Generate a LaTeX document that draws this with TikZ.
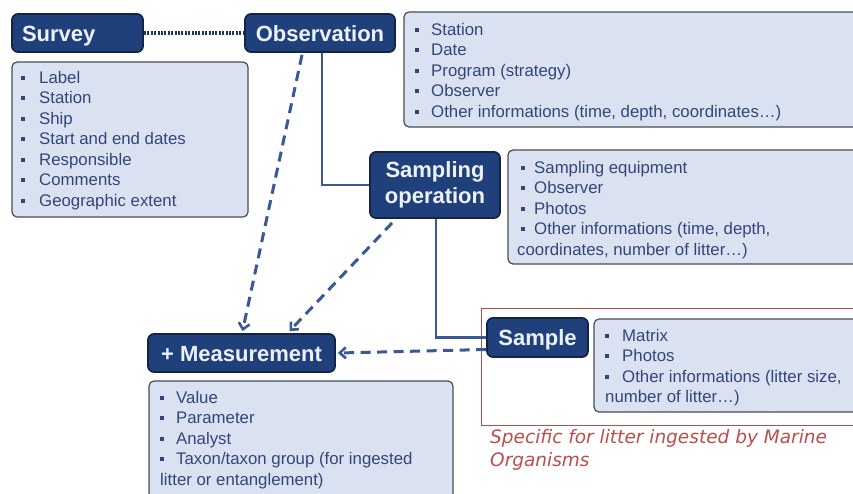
\documentclass[tikz,border=0pt]{standalone}
\usepackage{fontspec}
\setmainfont{Liberation Sans}
\newfontfamily\notefont{DejaVu Sans}
\usetikzlibrary{arrows.meta}
\definecolor{titlefill}{RGB}{32,64,124}
\definecolor{titledraw}{RGB}{20,36,70}
\definecolor{titletext}{RGB}{236,241,250}
\definecolor{listfill}{RGB}{218,226,242}
\definecolor{listdraw}{RGB}{72,76,86}
\definecolor{listtext}{RGB}{50,70,122}
\definecolor{conn}{RGB}{58,88,150}
\definecolor{dotcol}{RGB}{30,54,100}
\definecolor{redc}{RGB}{186,78,76}
\newcommand\bl[1]{\makebox[#1][l]{\rule[3.5pt]{4pt}{4pt}}}
\begin{document}
\begin{tikzpicture}[x=1pt,y=-1pt,
  title/.style={draw=titledraw, fill=titlefill, line width=1.8pt, rounded corners=6pt,
    text=titletext, font=\fontsize{22}{26}\selectfont\bfseries, inner sep=0pt, align=center},
  oneline/.style={text height=16pt, text depth=0pt},
  listbox/.style={draw=listdraw, fill=listfill, line width=1.2pt, rounded corners=5pt},
  item/.style={anchor=base west, inner sep=0pt, text=listtext, font=\fontsize{16.8}{20}\selectfont},
  sconn/.style={draw=conn, line width=2.3pt},
  dconn/.style={draw=conn, line width=3pt, dash pattern=on 10pt off 6.5pt,
    -{Straight Barb[length=6pt,width=11pt,line width=2.6pt]}},
  dotline/.style={draw=dotcol, line width=3.2pt, dash pattern=on 2pt off 1.4pt},
  redtext/.style={anchor=base west, inner sep=0pt, text=redc, font=\fontsize{18.5}{22}\notefont\itshape}
]
\clip (0,0) rectangle (853,493);
\fill[white] (0,0) rectangle (853,493);

% list boxes
\draw[listbox] (12,62) rectangle (248,217);
\draw[listbox] (404,12) rectangle (870,127);
\draw[listbox] (508,150) rectangle (870,264);
\draw[draw=redc, line width=0.9pt] (481,308) rectangle (870,425);
\draw[listbox] (594,319) rectangle (870,412);
\draw[listbox] (149,381) rectangle (453,510);

% title nodes
\node[title, oneline, minimum width=131pt, minimum height=38pt, text width=111pt, align=left] (survey) at (77.5,33) {Survey};
\node[title, oneline, minimum width=150pt, minimum height=38pt] (obs) at (320,33) {Observation};
\node[title, minimum width=130pt, minimum height=66pt] (samp) at (435,185) {Sampling\\operation};
\node[title, oneline, minimum width=101pt, minimum height=39pt] (sample) at (537.5,337.5) {Sample};
\node[title, oneline, minimum width=187pt, minimum height=38pt] (meas) at (241.5,353) {+ Measurement};

% connectors
\draw[dotline] (survey.east) -- (obs.west);
\draw[sconn] ([xshift=2pt]obs.south) |- (samp.west);
\draw[sconn] ([xshift=1pt]samp.south) |- (sample.west);
\draw[dconn] ([xshift=-18pt,yshift=-2pt]obs.south) -- ([xshift=1pt,yshift=2pt]meas.north);
\draw[dconn] ([xshift=23pt,yshift=-4pt]samp.south west) -- ([xshift=48pt,yshift=2pt]meas.north);
\draw[dconn] ([yshift=-12pt]sample.west) -- ([xshift=2pt]meas.east);

% survey list
\foreach \t [count=\i] in {Label,Station,Ship,Start and end dates,Responsible,Comments,Geographic extent}
  \node[item] (sv\i) at (21,{83+20.5*(\i-1)}) {\bl{18pt}\t};

% observation list
\foreach \t [count=\i] in {Station,Date,Program (strategy),Observer,{Other informations (time, depth, coordinates…)}}
  \node[item] (ob\i) at (415,{35+20.5*(\i-1)}) {\bl{16pt}\t};

% sampling operation list
\foreach \t [count=\i] in {Sampling equipment,Observer,Photos,{Other informations (time, depth,}}
  \node[item] (so\i) at (521,{173+20.5*(\i-1)}) {\bl{13pt}\t};
\node[item] (so5) at (517,255) {coordinates, number of litter…)};

% sample list
\foreach \t [count=\i] in {Matrix,Photos,{Other informations (litter size,}}
  \node[item] (sa\i) at (605,{341+20.5*(\i-1)}) {\bl{17pt}\t};
\node[item] (sa4) at (605,402.5) {number of litter…)};

% measurement list
\foreach \t [count=\i] in {Value,Parameter,Analyst,{Taxon/taxon group (for ingested}}
  \node[item] (me\i) at (160,{403+20.5*(\i-1)}) {\bl{16pt}\t};
\node[item] (me5) at (160,485) {litter or entanglement)};

% red note
\node[redtext] (note1) at (490,443) {Specific for litter ingested by Marine};
\node[redtext] (note2) at (490,466) {Organisms};
\end{tikzpicture}
\end{document}
